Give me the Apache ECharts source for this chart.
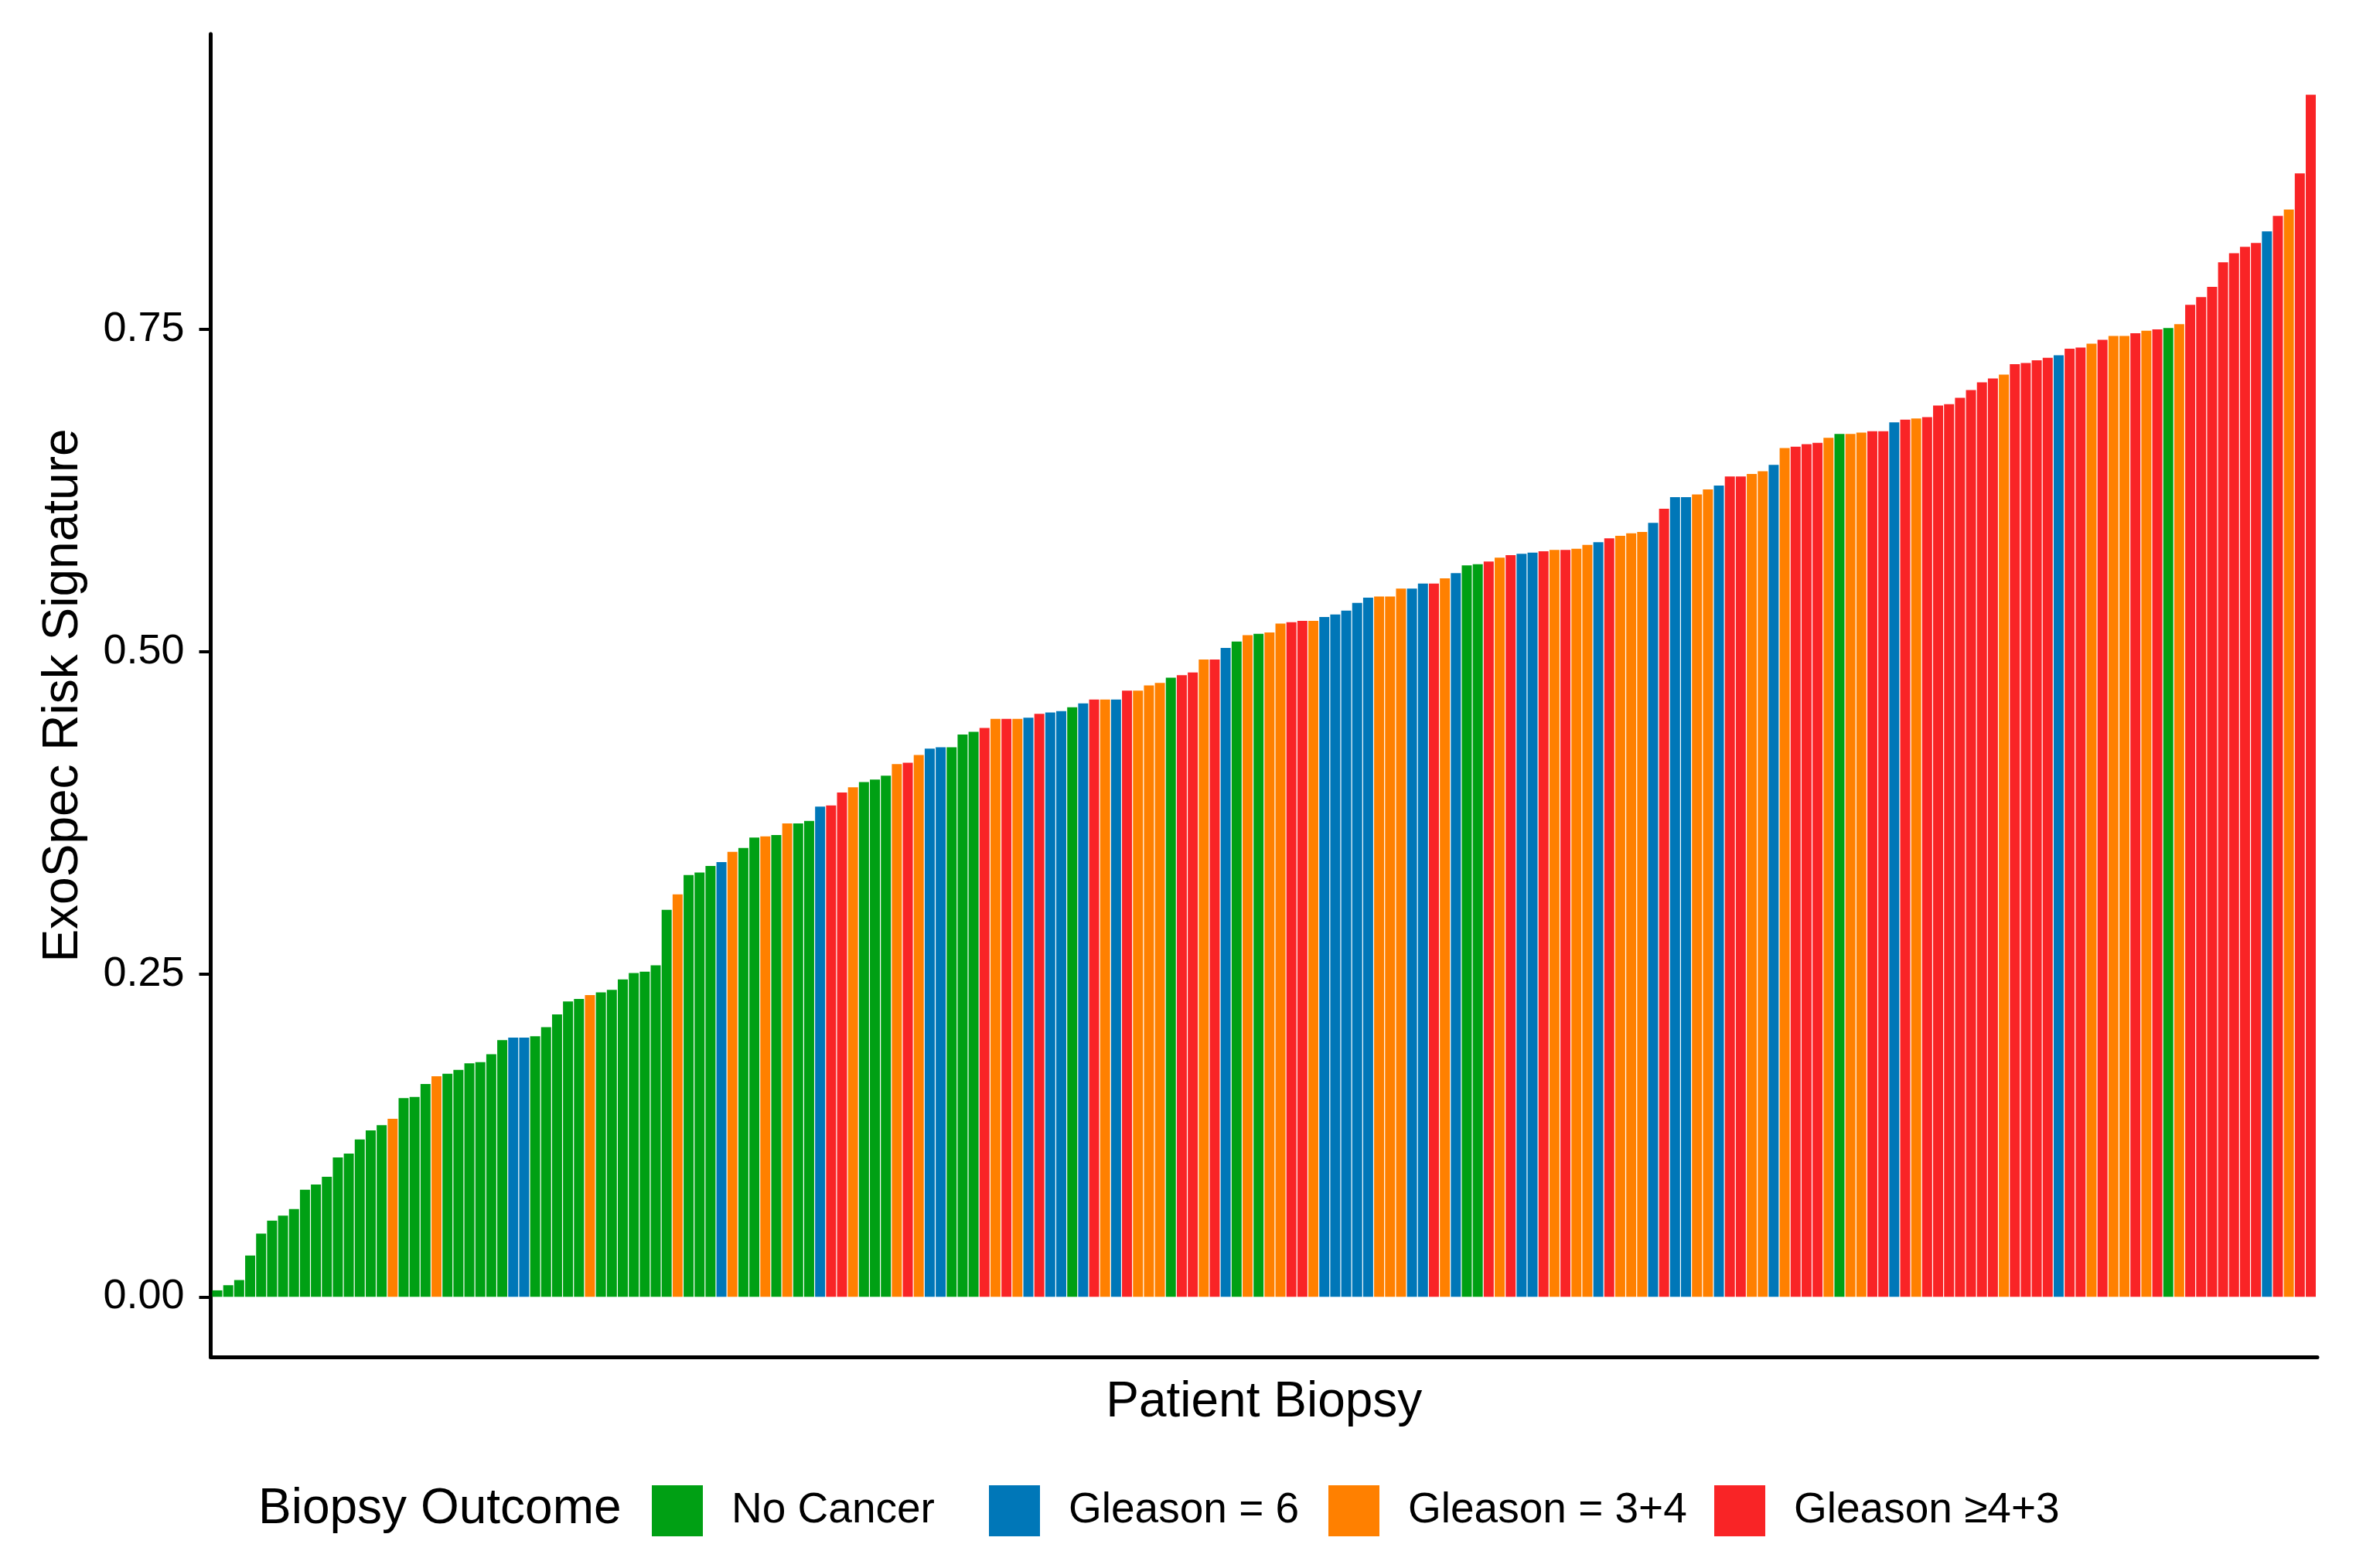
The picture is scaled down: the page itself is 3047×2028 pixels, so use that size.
<!DOCTYPE html>
<html>
<head>
<meta charset="utf-8">
<script src="https://cdn.jsdelivr.net/npm/echarts@6/dist/echarts.min.js"></script>
<style>
html,body{margin:0;padding:0;background:#fff;}
#chart{width:3047px;height:2028px;}
</style>
</head>
<body>
<div id="chart"></div>
<script>
// Biopsy outcome categories (legend order)
const categories = ["No Cancer", "Gleason = 6", "Gleason = 3+4", "Gleason \u22654+3"];
const categoryColors = ["#00A014", "#0077B8", "#FF8000", "#F92426"];

// ExoSpec risk score per patient biopsy, sorted ascending
const scores = [
  0.005,0.009,0.013,0.032,0.049,0.059,0.063,0.068,0.083,0.087,
  0.093,0.108,0.111,0.122,0.129,0.133,0.138,0.154,0.155,0.165,
  0.171,0.173,0.176,0.181,0.182,0.188,0.199,0.201,0.201,0.202,
  0.209,0.219,0.229,0.231,0.234,0.236,0.238,0.246,0.251,0.252,
  0.257,0.300,0.312,0.327,0.329,0.334,0.337,0.345,0.348,0.356,
  0.357,0.358,0.367,0.367,0.369,0.380,0.381,0.391,0.395,0.399,
  0.401,0.404,0.413,0.414,0.420,0.425,0.426,0.426,0.436,0.438,
  0.441,0.448,0.448,0.448,0.449,0.452,0.453,0.454,0.457,0.460,
  0.463,0.463,0.463,0.470,0.470,0.474,0.476,0.480,0.482,0.484,
  0.494,0.494,0.503,0.508,0.513,0.514,0.515,0.522,0.523,0.524,
  0.524,0.527,0.529,0.532,0.538,0.542,0.543,0.543,0.549,0.549,
  0.553,0.553,0.557,0.561,0.567,0.568,0.570,0.573,0.575,0.576,
  0.577,0.578,0.579,0.579,0.580,0.583,0.585,0.588,0.590,0.592,
  0.593,0.600,0.611,0.620,0.620,0.622,0.626,0.629,0.636,0.636,
  0.638,0.640,0.645,0.658,0.659,0.661,0.662,0.666,0.669,0.669,
  0.670,0.671,0.671,0.678,0.680,0.681,0.682,0.691,0.692,0.697,
  0.703,0.709,0.712,0.715,0.723,0.724,0.726,0.728,0.730,0.735,
  0.736,0.739,0.742,0.745,0.745,0.747,0.749,0.750,0.751,0.754,
  0.769,0.775,0.783,0.802,0.809,0.814,0.817,0.826,0.838,0.843,
  0.871,0.932
];

// Outcome index (into categories) per biopsy, same order as scores
const outcomes = [
  0,0,0,0,0,0,0,0,0,0,
  0,0,0,0,0,0,2,0,0,0,
  2,0,0,0,0,0,0,1,1,0,
  0,0,0,0,2,0,0,0,0,0,
  0,0,2,0,0,0,1,2,0,0,
  2,0,2,0,0,1,3,3,2,0,
  0,0,2,3,2,1,1,0,0,0,
  3,2,3,2,1,3,1,1,0,1,
  3,2,1,3,2,2,2,0,3,3,
  2,3,1,0,2,0,2,2,3,3,
  2,1,1,1,1,1,2,2,2,1,
  1,3,2,1,0,0,3,2,3,1,
  1,3,2,3,2,2,1,3,2,2,
  2,1,3,1,1,2,2,1,3,3,
  2,2,1,2,3,3,3,2,0,2,
  2,3,3,1,3,2,3,3,3,3,
  3,3,3,2,3,3,3,3,1,3,
  3,2,3,2,2,3,2,3,0,2,
  3,3,3,3,3,3,3,1,3,2,
  3,3
];

const yTicks = [0, 0.25, 0.5, 0.75];

const N = scores.length;
const W = 3047, H = 2028;
const grid = {left: 272.5, right: 50, top: 44, bottom: 273};
const unit = (W - grid.left - grid.right) / (N + 1.2);
const barW = unit * 0.92;

const series = categories.map((name, k) => ({
  name: name,
  type: 'bar',
  barWidth: barW,
  barGap: '-100%',
  itemStyle: {color: categoryColors[k]},
  data: scores.map((v, i) => outcomes[i] === k ? [i + 1, v] : null).filter(d => d !== null),
  emphasis: {disabled: true}
}));

const legendLefts = [843, 1279, 1718, 2217];
const legends = categories.map((name, k) => ({
  data: [name],
  left: legendLefts[k],
  top: 1921,
  orient: 'horizontal',
  padding: 0,
  icon: 'rect',
  itemWidth: 66,
  itemHeight: 66,
  selectedMode: false,
  textStyle: {fontFamily: 'Liberation Sans', fontSize: 55, color: '#000', padding: [0, 0, 0, 32]}
}));

const chart = echarts.init(document.getElementById('chart'), null, {renderer: 'canvas', width: W, height: H});
chart.setOption({
  animation: false,
  backgroundColor: '#fff',
  textStyle: {fontFamily: 'Liberation Sans'},
  grid: grid,
  legend: legends,
  graphic: [{
    type: 'text',
    left: 334,
    top: 1954 - 34,
    style: {text: 'Biopsy Outcome', fontFamily: 'Liberation Sans', fontSize: 64, fill: '#000'}
  }],
  xAxis: {
    type: 'value',
    min: 0.4,
    max: N + 0.6,
    name: 'Patient Biopsy',
    nameLocation: 'middle',
    nameGap: 27,
    nameTextStyle: {fontFamily: 'Liberation Sans', fontSize: 64, color: '#000'},
    axisLine: {show: true, onZero: false, lineStyle: {color: '#000', width: 5}},
    axisTick: {show: false},
    axisLabel: {show: false},
    splitLine: {show: false}
  },
  yAxis: {
    type: 'value',
    min: -0.0466,
    max: 0.979,
    name: 'ExoSpec Risk Signature',
    nameLocation: 'middle',
    nameRotate: 90,
    nameGap: 158,
    nameTextStyle: {fontFamily: 'Liberation Sans', fontSize: 64, color: '#000'},
    axisLine: {show: true, onZero: false, lineStyle: {color: '#000', width: 5}},
    axisTick: {show: true, length: 15, lineStyle: {color: '#000', width: 4}, customValues: yTicks},
    axisLabel: {show: true, margin: 34, fontFamily: 'Liberation Sans', fontSize: 54, color: '#000',
      customValues: yTicks, formatter: v => v.toFixed(2)},
    splitLine: {show: false}
  },
  series: series
});
</script>
</body>
</html>
